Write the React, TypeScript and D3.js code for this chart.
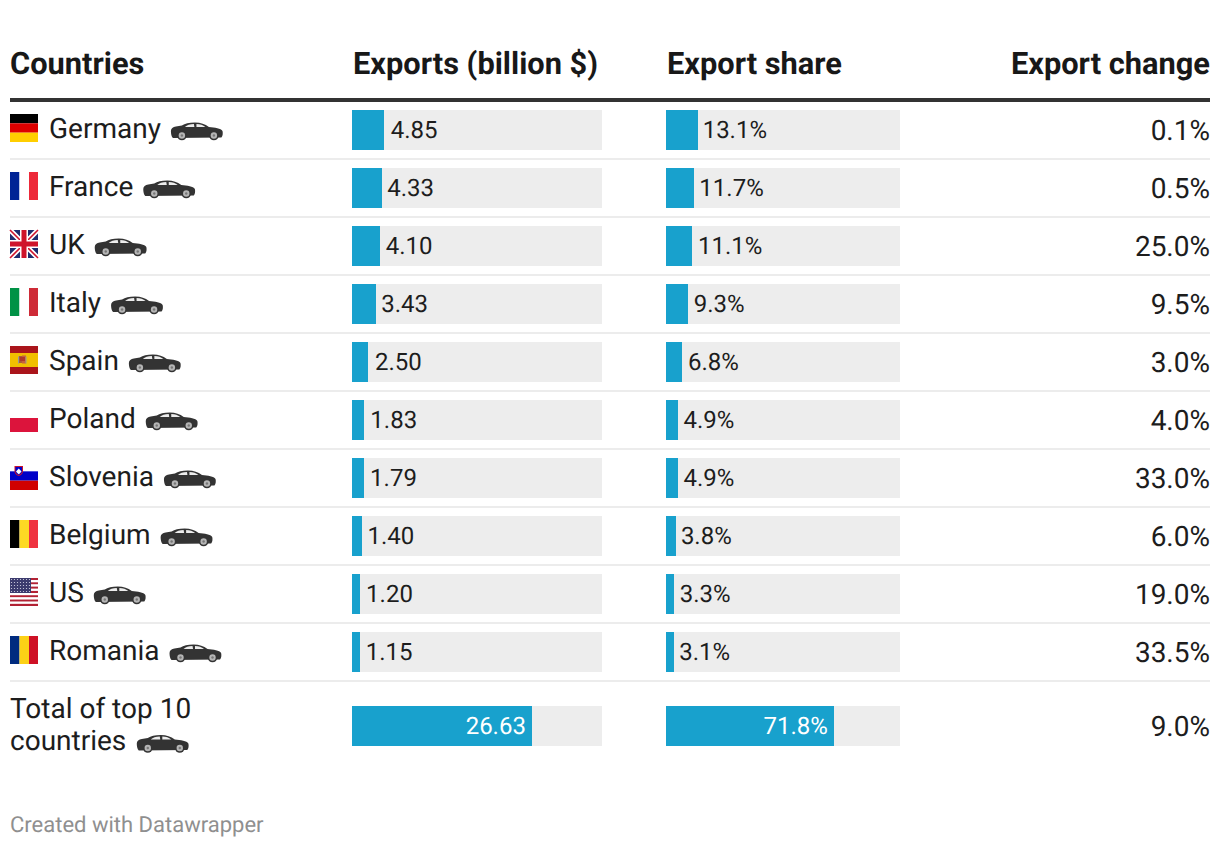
import React, { useEffect, useRef } from "react";
import * as d3 from "d3";

const countries = ["Germany", "France", "UK", "Italy", "Spain", "Poland", "Slovenia", "Belgium", "US", "Romania"];
const exportsB = [4.85, 4.33, 4.1, 3.43, 2.5, 1.83, 1.79, 1.4, 1.2, 1.15];
const shares = [13.1, 11.7, 11.1, 9.3, 6.8, 4.9, 4.9, 3.8, 3.3, 3.1];
const changes = [0.1, 0.5, 25.0, 9.5, 3.0, 4.0, 33.0, 6.0, 19.0, 33.5];
const totalLines = ["Total of top 10", "countries"];
const totalExports = 26.63;
const totalShare = 71.8;
const totalChange = 9.0;
const headers = ["Countries", "Exports (billion $)", "Export share", "Export change"];

const FONT = "Roboto, sans-serif";
const BLUE = "#18a1cd";
const TRACK = "#ededed";
const INK = "#1d1d1d";

function drawFlag(g: any, name: string) {
  const r = (x: number, y: number, w: number, h: number, c: string) =>
    g.append("rect").attr("x", x).attr("y", y).attr("width", w).attr("height", h).attr("fill", c);
  const v3 = (a: string, b: string, c: string) => { r(0, 0, 9.5, 28, a); r(9.5, 0, 9.5, 28, b); r(19, 0, 9, 28, c); };
  const h3 = (a: string, b: string, c: string) => { r(0, 0, 28, 9.33, a); r(0, 9.33, 28, 9.34, b); r(0, 18.67, 28, 9.33, c); };
  if (name === "Germany") h3("#000000", "#dd0000", "#ffce00");
  if (name === "France") v3("#002395", "#ffffff", "#ed2939");
  if (name === "Italy") v3("#009246", "#ffffff", "#ce2b37");
  if (name === "Belgium") v3("#000000", "#fdda24", "#ef3340");
  if (name === "Romania") v3("#002b7f", "#fcd116", "#ce1126");
  if (name === "Poland") { r(0, 0, 28, 14, "#ffffff"); r(0, 14, 28, 14, "#dc143c"); }
  if (name === "Slovenia") {
    h3("#ffffff", "#0000c8", "#d00000");
    g.append("path").attr("d", "M4.5,4 h8.5 v5 q0,3.5 -4.25,5 q-4.25,-1.5 -4.25,-5 z").attr("fill", "#c8102e");
    g.append("path").attr("d", "M5.5,5 h6.5 v4 q0,2.6 -3.25,4 q-3.25,-1.4 -3.25,-4 z").attr("fill", "#0000c8");
    g.append("path").attr("d", "M6,9.5 l2.75,-3 l2.75,3 q-1.2,1.8 -2.75,2.8 q-1.5,-1 -2.75,-2.8 z").attr("fill", "#ffffff");
  }
  if (name === "Spain") {
    r(0, 0, 28, 7, "#aa151b"); r(0, 7, 28, 14, "#f1bf00"); r(0, 21, 28, 7, "#aa151b");
    r(9, 10, 3, 7, "#ad5b3a"); r(12, 9.5, 4, 8, "#c8603c"); r(10, 11, 5, 4, "#b03a2a"); r(8, 10.5, 1, 7, "#999"); r(15.5, 10.5, 1, 7, "#999");
  }
  if (name === "UK") {
    r(0, 0, 28, 28, "#1f2d6e");
    g.append("path").attr("d", "M0,0 L28,28 M28,0 L0,28").attr("stroke", "#fff").attr("stroke-width", 5);
    g.append("path").attr("d", "M0,0 L28,28 M28,0 L0,28").attr("stroke", "#cf142b").attr("stroke-width", 1.6);
    r(10, 0, 8, 28, "#fff"); r(0, 10, 28, 8, "#fff");
    r(11.5, 0, 5, 28, "#cf142b"); r(0, 11.5, 28, 5, "#cf142b");
  }
  if (name === "US") {
    for (let i = 0; i < 7; i++) {
      r(0, (i * 2 * 28) / 13, 28, 28 / 13, "#b22234");
      if (i < 6) r(0, ((i * 2 + 1) * 28) / 13, 28, 28 / 13, "#ffffff");
    }
    r(0, 0, 21, 15, "#3c3b6e");
    for (let y = 1.5; y < 15; y += 3) for (let x = 1.5; x < 21; x += 3)
      g.append("circle").attr("cx", x).attr("cy", y).attr("r", 0.6).attr("fill", "#d8d8e8");
  }
}

function drawCar(g: any) {
  g.append("path")
    .attr("d", "M0,8.5 C0,6 2,4.6 5,4 L11,3 C14,1.2 18,0 24,0 C30,0 34,1.6 38,4.6 C44,5 50,6 51.6,8.5 C52.2,11 51.8,13.5 50.5,15 L2,15.5 C0.5,14 0,11 0,8.5 Z")
    .attr("fill", "#333333");
  g.append("path").attr("d", "M14,4.4 C16,2.8 19,1.8 23,1.6 L23.5,4.4 Z").attr("fill", "#ececec");
  g.append("path").attr("d", "M25.5,1.6 C29.5,1.7 32,2.8 34.5,4.4 L25.5,4.4 Z").attr("fill", "#ececec");
  [11, 43].forEach((cx) => {
    g.append("circle").attr("cx", cx).attr("cy", 13).attr("r", 4.8).attr("fill", "#333333");
    g.append("circle").attr("cx", cx).attr("cy", 13).attr("r", 3.2).attr("fill", "#b5b5b5");
    g.append("circle").attr("cx", cx).attr("cy", 13).attr("r", 1.2).attr("fill", "#777");
  });
}

export default function App() {
  const ref = useRef<SVGSVGElement>(null);
  useEffect(() => {
    const svg = d3.select(ref.current);
    svg.selectAll("*").remove();

    const rowY = d3.scaleBand<string>().domain(countries).range([101, 681]);
    const xExp = d3.scaleLinear().domain([0, 37]).range([0, 250]);
    const xShare = d3.scaleLinear().domain([0, 100]).range([0, 233.9]);
    const evenRound = (n: number) => Math.round(n / 2) * 2;
    const evenCeil = (n: number) => Math.ceil(n / 2) * 2;

    const text = (x: number, y: number, s: string, size: number, o: any = {}) =>
      svg.append("text").attr("x", x).attr("y", y).text(s)
        .attr("font-family", FONT).attr("font-size", size)
        .attr("font-weight", o.weight ?? 400).attr("fill", o.fill ?? INK)
        .attr("text-anchor", o.anchor ?? "start");

    // Header
    const hs = 30.8;
    text(10, 74, headers[0], hs, { weight: 700, fill: "#181818" });
    text(353, 74, headers[1], hs, { weight: 700, fill: "#181818" });
    text(667, 74, headers[2], hs, { weight: 700, fill: "#181818" });
    text(1210, 74, headers[3], hs, { weight: 700, fill: "#181818", anchor: "end" });
    svg.append("rect").attr("x", 10).attr("y", 98).attr("width", 1200).attr("height", 4).attr("fill", "#333333");

    const bar = (x0: number, y: number, w: number, trueW: number, full: number, label: string, inside = false) => {
      svg.append("rect").attr("x", x0).attr("y", y).attr("width", full).attr("height", 40).attr("fill", TRACK);
      svg.append("rect").attr("x", x0).attr("y", y).attr("width", w).attr("height", 40).attr("fill", BLUE);
      if (inside) text(x0 + trueW - 6, y + 28, label, 24, { fill: "#ffffff", anchor: "end" });
      else text(x0 + trueW + 6, y + 28, label, 24);
    };

    countries.forEach((c, i) => {
      const top = rowY(c)!;
      const flag = svg.append("g").attr("transform", `translate(10,${top + 13})`);
      drawFlag(flag, c);
      const t = text(49, top + 37, c, 28);
      const len = (t.node() as SVGTextElement).getComputedTextLength();
      drawCar(svg.append("g").attr("transform", `translate(${49 + len + 10},${top + 21.5})`));
      bar(352, top + 9, evenRound(xExp(exportsB[i])), xExp(exportsB[i]), 250, exportsB[i].toFixed(2));
      bar(666, top + 9, evenCeil(xShare(shares[i])), xShare(shares[i]), 234, shares[i].toFixed(1) + "%");
      text(1210, top + 39, changes[i].toFixed(1) + "%", 28, { anchor: "end" });
      svg.append("rect").attr("x", 10).attr("y", top + 57).attr("width", 1200).attr("height", 2).attr("fill", "#ececec");
    });

    // Total row
    text(10, 718, totalLines[0], 28);
    const tl = text(10, 750, totalLines[1], 28);
    const tlen = (tl.node() as SVGTextElement).getComputedTextLength();
    drawCar(svg.append("g").attr("transform", `translate(${10 + tlen + 10.5},735)`));
    bar(352, 706, evenRound(xExp(totalExports)), xExp(totalExports), 250, totalExports.toFixed(2), true);
    bar(666, 706, evenCeil(xShare(totalShare)), xShare(totalShare), 234, totalShare.toFixed(1) + "%", true);
    text(1210, 736, totalChange.toFixed(1) + "%", 28, { anchor: "end" });

    text(10, 832, "Created with Datawrapper", 22, { fill: "#8f8f8f" });
  }, []);
  return (
    <svg ref={ref} width={1220} height={848}
      style={{ position: "absolute", left: 0, top: 0, background: "#fff", textRendering: "geometricPrecision" }} />
  );
}
